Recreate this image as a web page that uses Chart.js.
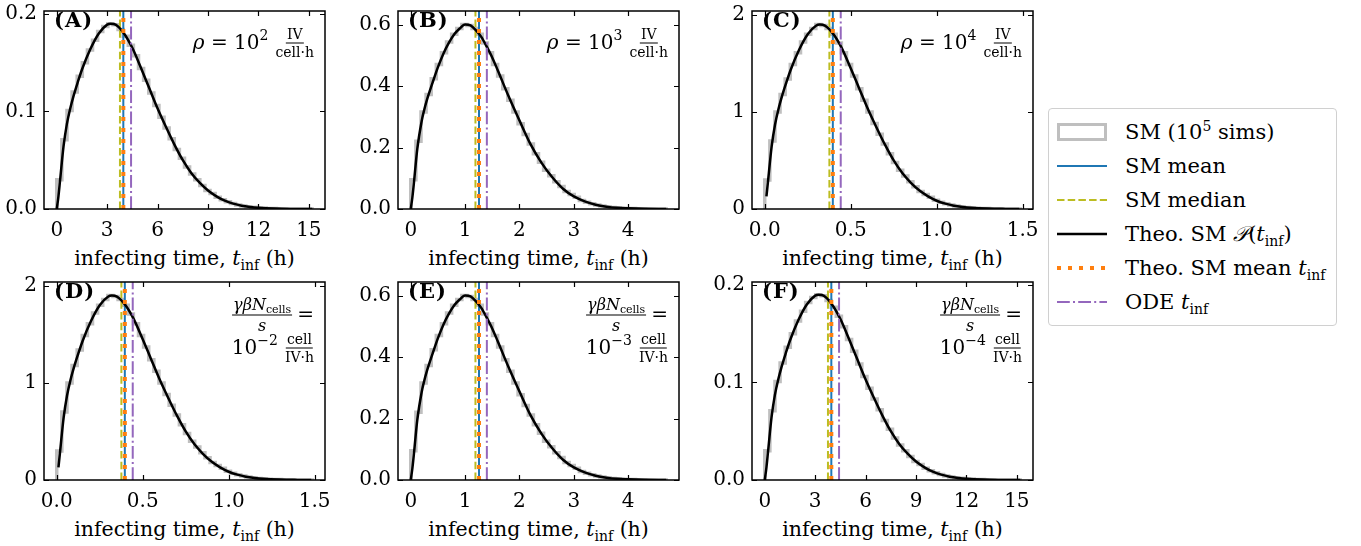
<!DOCTYPE html>
<html>
<head>
<meta charset="utf-8">
<script src="https://cdn.jsdelivr.net/npm/chart.js@4.4.1/dist/chart.umd.min.js"></script>
<style>
  body { margin: 0; background: #fff; }
  #fig { position: relative; width: 1361px; height: 546px; overflow: hidden;
         font-family: "DejaVu Serif", serif; color: #000; background: #fff; }
  #fig canvas { position: absolute; }
  .xlab { position: absolute; font-size: 20.5px; white-space: nowrap; line-height: 24px;
          transform: translate(-50%, -50%); }
  .xlab sub, .leg sub { font-size: 14px; vertical-align: -5px; line-height: 0; }
  .tag { position: absolute; font-size: 21px; font-weight: bold; line-height: 24px; letter-spacing: 1px; }
  .ann { position: absolute; font-size: 20px; white-space: nowrap; line-height: 30px;
         transform: translate(-100%, -50%); }
  .ann sup { font-size: 14px; vertical-align: 9px; line-height: 0; }
  .ann sub { font-size: 11px; vertical-align: -3px; line-height: 0; }
  .frac { display: inline-flex; flex-direction: column; align-items: center; vertical-align: middle;
          font-size: 14px; line-height: 15px; margin-left: 7px; }
  .frac .num { border-bottom: 1px solid #000; padding: 0 1px 1px; }
  .frac .den { padding-top: 1px; }
  .frac.big { font-size: 16px; line-height: 18px; margin-left: 0; margin-right: 5px; }
  #legend { position: absolute; left: 1048px; top: 108px; width: 289px; height: 218px;
            border: 1px solid #d0d0d0; border-radius: 4px; background: #fff; box-sizing: border-box; }
  .leg { position: absolute; left: 8px; height: 34px; display: flex; align-items: center;
         font-size: 21px; white-space: nowrap; }
  .leg .h { width: 50px; margin-right: 18px; display: flex; align-items: center; justify-content: center; }
  .leg sup { font-size: 14px; vertical-align: 8px; line-height: 0; }
</style>
</head>
<body>
<div id="fig"></div>
<script>
// three simulation sets: slow (panels A, F), mid (B, E), fast (C, D)

// SM histograms, 50 equal bins from 0 to the bin span
const histSpan = { slow: 15.2, mid: 4.7, fast: 1.486 };
const histSlow = [0.030, 0.071, 0.101, 0.120, 0.136, 0.150, 0.163, 0.173, 0.182, 0.187,
                  0.190, 0.189, 0.184, 0.177, 0.168, 0.157, 0.144, 0.132, 0.119, 0.106,
                  0.094, 0.083, 0.072, 0.061, 0.052, 0.043, 0.036, 0.030, 0.024, 0.019,
                  0.016, 0.012, 0.0095, 0.0074, 0.0056, 0.0042, 0.0031, 0.0023, 0.0017, 0.0012,
                  0.0009, 0.0006, 0.0004, 0.0003, 0.0002, 0.0001, 0.0001, 0, 0, 0.0001];
const histMid = [0.095, 0.221, 0.316, 0.373, 0.424, 0.471, 0.509, 0.544, 0.569, 0.588,
                 0.601, 0.598, 0.588, 0.569, 0.541, 0.509, 0.471, 0.433, 0.392, 0.354,
                 0.316, 0.278, 0.243, 0.212, 0.180, 0.152, 0.126, 0.108, 0.089, 0.073,
                 0.057, 0.047, 0.038, 0.028, 0.022, 0.017, 0.013, 0.0095, 0.007, 0.005,
                 0.0038, 0.0028, 0.0019, 0.0013, 0.0009, 0.0006, 0.0003, 0.0003, 0.0001, 0.0001];
const histFast = [0.30, 0.70, 1.00, 1.18, 1.34, 1.49, 1.61, 1.72, 1.80, 1.86,
                  1.90, 1.89, 1.86, 1.80, 1.71, 1.61, 1.49, 1.37, 1.24, 1.12,
                  1.00, 0.88, 0.77, 0.67, 0.57, 0.48, 0.40, 0.34, 0.28, 0.23,
                  0.18, 0.15, 0.12, 0.09, 0.070, 0.053, 0.040, 0.030, 0.022, 0.016,
                  0.012, 0.009, 0.006, 0.004, 0.003, 0.002, 0.001, 0.001, 0.0005, 0.0005];

// theoretical P(t_inf)
const curveTSlow = [0, 0.1, 0.2, 0.4, 0.6, 0.8, 1.0, 1.25, 1.5, 2.0, 2.5, 3.0, 3.2, 3.5, 4.0, 4.5,
                    5.0, 5.5, 6.0, 6.5, 7.0, 7.5, 8.0, 8.5, 9.0, 9.5, 10.0, 10.5, 11.0, 11.5,
                    12.0, 13.0, 14.0, 15.2];
const curvePSlow = [0, 0.013, 0.03, 0.064, 0.087, 0.103, 0.116, 0.130, 0.143, 0.164, 0.180, 0.189,
                    0.190, 0.189, 0.180, 0.165, 0.145, 0.124, 0.103, 0.084, 0.066, 0.050, 0.037,
                    0.027, 0.019, 0.013, 0.0085, 0.0055, 0.0034, 0.0021, 0.0012, 0.0004, 0.0001, 0];
const curveTMid = [0, 0.03, 0.06, 0.12, 0.2, 0.25, 0.3, 0.4, 0.5, 0.6, 0.7, 0.8, 0.9, 1.0, 1.1,
                   1.2, 1.3, 1.4, 1.5, 1.6, 1.8, 2.0, 2.2, 2.4, 2.6, 2.8, 3.0, 3.2, 3.4, 3.6,
                   3.8, 4.0, 4.3, 4.7];
const curvePMid = [0, 0.039, 0.089, 0.196, 0.286, 0.325, 0.357, 0.411, 0.462, 0.506, 0.541, 0.569,
                   0.588, 0.601, 0.598, 0.582, 0.560, 0.528, 0.493, 0.452, 0.367, 0.288, 0.212,
                   0.152, 0.104, 0.066, 0.041, 0.025, 0.014, 0.0076, 0.0038, 0.0022, 0.0006, 0];
const curveTFast = [0.01, 0.02, 0.04, 0.06, 0.08, 0.1, 0.125, 0.15, 0.2, 0.25, 0.3, 0.32, 0.35,
                    0.4, 0.45, 0.5, 0.55, 0.6, 0.65, 0.7, 0.75, 0.8, 0.85, 0.9, 0.95, 1.0, 1.05,
                    1.1, 1.15, 1.2, 1.3, 1.4, 1.48];
const curvePFast = [0.13, 0.30, 0.64, 0.87, 1.03, 1.16, 1.30, 1.43, 1.64, 1.80, 1.89, 1.90, 1.89,
                    1.80, 1.65, 1.45, 1.24, 1.03, 0.84, 0.66, 0.50, 0.37, 0.27, 0.19, 0.13, 0.085,
                    0.055, 0.034, 0.021, 0.012, 0.004, 0.001, 0];

// per-panel vertical markers, order A B C D E F
const panelIds = ['A', 'B', 'C', 'D', 'E', 'F'];
const panelSet = ['slow', 'mid', 'fast', 'fast', 'mid', 'slow'];
const smMedian = [3.76, 1.19, 0.376, 0.376, 1.19, 3.76];
const smMean = [3.96, 1.255, 0.396, 0.396, 1.255, 3.96];
const theoMean = [3.96, 1.255, 0.396, 0.396, 1.255, 3.96];
const odeTinf = [4.42, 1.40, 0.442, 0.442, 1.40, 4.42];
const rhoExp = ['2', '3', '4'];
const rateExp = ['\u22122', '\u22123', '\u22124'];

// axis ranges and ticks per set
const xTicks = { slow: [0, 3, 6, 9, 12, 15], mid: [0, 1, 2, 3, 4], fast: [0, 0.5, 1.0, 1.5] };
const xTickLabels = { slow: ['0', '3', '6', '9', '12', '15'], mid: ['0', '1', '2', '3', '4'],
                      fast: ['0.0', '0.5', '1.0', '1.5'] };
const yTicks = { slow: [0, 0.1, 0.2], mid: [0, 0.2, 0.4, 0.6], fast: [0, 1, 2] };
const yTickLabels = { slow: ['0.0', '0.1', '0.2'], mid: ['0.0', '0.2', '0.4', '0.6'], fast: ['0', '1', '2'] };
const xRange = { slow: [-0.76, 15.96], mid: [-0.235, 4.935], fast: [-0.074, 1.56] };
const yMax = { slow: 0.203, mid: 0.645, fast: 2.04 };

const hists = { slow: histSlow, mid: histMid, fast: histFast };
const curves = {
  slow: [curveTSlow, curvePSlow],
  mid: [curveTMid, curvePMid],
  fast: [curveTFast, curvePFast],
};

const COL = { hist: '#bfbfbf', mean: '#1f77b4', median: '#bcbd22', theo: '#000000',
              theoMean: '#ff7f0e', ode: '#9467bd' };

// layout in px
const boxLeft = [44, 398, 752];
const boxTop = [6, 277];
const BOX_W = 281, BOX_H = 203;
const Y_AX = 48, X_AX = 36, PAD_T = 14, PAD_R = 24;

const fig = document.getElementById('fig');

// inward ticks on all four sides plus the frame
const frame = {
  id: 'frame',
  afterDatasetsDraw(chart) {
    const { ctx, chartArea: { left, right, top, bottom }, scales: { x, y } } = chart;
    ctx.save();
    ctx.strokeStyle = '#000';
    ctx.lineWidth = 1.2;
    ctx.beginPath();
    x.ticks.forEach((t) => {
      const px = Math.round(x.getPixelForValue(t.value)) + 0.5;
      ctx.moveTo(px, bottom); ctx.lineTo(px, bottom - 5);
      ctx.moveTo(px, top); ctx.lineTo(px, top + 5);
    });
    y.ticks.forEach((t) => {
      const py = Math.round(y.getPixelForValue(t.value)) + 0.5;
      ctx.moveTo(left, py); ctx.lineTo(left + 5, py);
      ctx.moveTo(right, py); ctx.lineTo(right - 5, py);
    });
    ctx.stroke();
    ctx.lineWidth = 1.5;
    ctx.strokeRect(left, top, right - left, bottom - top);
    ctx.restore();
  },
};

function vline(v, top, color, width, dash, order) {
  return {
    data: [{ x: v, y: 0 }, { x: v, y: top }],
    borderColor: color, borderWidth: width, borderDash: dash,
    borderCapStyle: 'butt', pointRadius: 0, order,
  };
}

function frac(num, den, cls) {
  return `<span class="frac ${cls || ''}"><span class="num">${num}</span><span class="den">${den}</span></span>`;
}

panelIds.forEach((id, i) => {
  const set = panelSet[i];
  const col = i % 3, row = Math.floor(i / 3);
  const left = boxLeft[col], top = boxTop[row];

  const canvas = document.createElement('canvas');
  canvas.width = Y_AX + BOX_W + PAD_R;
  canvas.height = PAD_T + BOX_H + X_AX;
  canvas.style.left = (left - Y_AX) + 'px';
  canvas.style.top = (top - PAD_T) + 'px';
  fig.appendChild(canvas);

  // step outline of the histogram
  const h = hists[set];
  const bw = histSpan[set] / h.length;
  const steps = [{ x: 0, y: 0 }];
  h.forEach((v, k) => steps.push({ x: k * bw, y: v }));
  steps.push({ x: histSpan[set], y: h[h.length - 1] });
  steps.push({ x: histSpan[set], y: 0 });

  const [ct, cp] = curves[set];
  const theo = ct.map((t, k) => ({ x: t, y: cp[k] }));
  const ym = yMax[set];

  new Chart(canvas.getContext('2d'), {
    type: 'line',
    plugins: [frame],
    data: {
      datasets: [
        { data: steps, stepped: 'before', borderColor: COL.hist, borderWidth: 3.5,
          pointRadius: 0, order: 6 },
        vline(smMean[i], ym, COL.mean, 2, [], 5),
        vline(smMedian[i], ym, COL.median, 2, [7.5, 3.2], 4),
        { data: theo, borderColor: COL.theo, borderWidth: 2.5, pointRadius: 0,
          cubicInterpolationMode: 'monotone', order: 3 },
        vline(theoMean[i], ym, COL.theoMean, 4, [4, 7], 2),
        vline(odeTinf[i], ym, COL.ode, 2, [12.8, 3.2, 2, 3.2], 1),
      ],
    },
    options: {
      responsive: false,
      animation: false,
      events: [],
      layout: { padding: { top: PAD_T, right: PAD_R, left: 0, bottom: 0 } },
      plugins: { legend: { display: false }, tooltip: { enabled: false } },
      scales: {
        x: {
          type: 'linear', min: xRange[set][0], max: xRange[set][1],
          afterBuildTicks: (s) => { s.ticks = xTicks[set].map((v) => ({ value: v })); },
          afterFit: (s) => { s.height = X_AX; },
          grid: { display: false, drawTicks: false },
          border: { display: false },
          ticks: {
            padding: 10, color: '#000', maxRotation: 0, autoSkip: false,
            font: { family: 'DejaVu Serif', size: 20 },
            callback: (v, k) => xTickLabels[set][k],
          },
        },
        y: {
          min: 0, max: ym,
          afterBuildTicks: (s) => { s.ticks = yTicks[set].map((v) => ({ value: v })); },
          afterFit: (s) => { s.width = Y_AX; },
          grid: { display: false, drawTicks: false },
          border: { display: false },
          ticks: {
            padding: 7, color: '#000', autoSkip: false,
            font: { family: 'DejaVu Serif', size: 20 },
            callback: (v, k) => yTickLabels[set][k],
          },
        },
      },
    },
  });

  // axis label
  const xl = document.createElement('div');
  xl.className = 'xlab';
  xl.style.left = (left + BOX_W / 2) + 'px';
  xl.style.top = (top + BOX_H + 49) + 'px';
  xl.innerHTML = 'infecting time, <i>t</i><sub>inf</sub> (h)';
  fig.appendChild(xl);

  // panel letter
  const tag = document.createElement('div');
  tag.className = 'tag';
  tag.style.left = (left + 10) + 'px';
  tag.style.top = (top + 2) + 'px';
  tag.textContent = '(' + id + ')';
  fig.appendChild(tag);

  // parameter annotation
  if (row === 0) {
    const a = document.createElement('div');
    a.className = 'ann';
    a.style.left = (left + BOX_W - 11) + 'px';
    a.style.top = (top + 37) + 'px';
    a.innerHTML = '<i>\u03c1</i> = 10<sup>' + rhoExp[col] + '</sup>' + frac('IV', 'cell\u00b7h');
    fig.appendChild(a);
  } else {
    const a1 = document.createElement('div');
    a1.className = 'ann';
    a1.style.left = (left + BOX_W - 11) + 'px';
    a1.style.top = (top + 38) + 'px';
    a1.innerHTML = frac('<i>\u03b3\u03b2N</i><sub>cells</sub>', '<i>s</i>', 'big') + '=';
    fig.appendChild(a1);
    const a2 = document.createElement('div');
    a2.className = 'ann';
    a2.style.left = (left + BOX_W - 11) + 'px';
    a2.style.top = (top + 71) + 'px';
    a2.innerHTML = '10<sup>' + rateExp[col] + '</sup>' + frac('cell', 'IV\u00b7h');
    fig.appendChild(a2);
  }
});

// figure legend
const legendRows = [
  ['<div style="width:44px;height:12px;border:3px solid ' + COL.hist + '"></div>', 'SM (10<sup>5</sup> sims)'],
  ['<svg width="50" height="10"><line x1="0" y1="5" x2="50" y2="5" stroke="' + COL.mean + '" stroke-width="2"/></svg>', 'SM mean'],
  ['<svg width="50" height="10"><line x1="0" y1="5" x2="50" y2="5" stroke="' + COL.median + '" stroke-width="2" stroke-dasharray="7.5 3.2"/></svg>', 'SM median'],
  ['<svg width="50" height="10"><line x1="0" y1="5" x2="50" y2="5" stroke="' + COL.theo + '" stroke-width="2.5"/></svg>', 'Theo. SM <i>\ud835\udcab</i>(<i>t</i><sub>inf</sub>)'],
  ['<svg width="50" height="10"><line x1="0" y1="5" x2="50" y2="5" stroke="' + COL.theoMean + '" stroke-width="4" stroke-dasharray="4 7"/></svg>', 'Theo. SM mean <i>t</i><sub>inf</sub>'],
  ['<svg width="50" height="10"><line x1="0" y1="5" x2="50" y2="5" stroke="' + COL.ode + '" stroke-width="2" stroke-dasharray="12.8 3.2 2 3.2"/></svg>', 'ODE <i>t</i><sub>inf</sub>'],
];
const legend = document.createElement('div');
legend.id = 'legend';
legendRows.forEach(([handle, label], k) => {
  const r = document.createElement('div');
  r.className = 'leg';
  r.style.top = (6 + k * 34) + 'px';
  r.innerHTML = '<span class="h">' + handle + '</span><span>' + label + '</span>';
  legend.appendChild(r);
});
fig.appendChild(legend);
</script>
</body>
</html>
